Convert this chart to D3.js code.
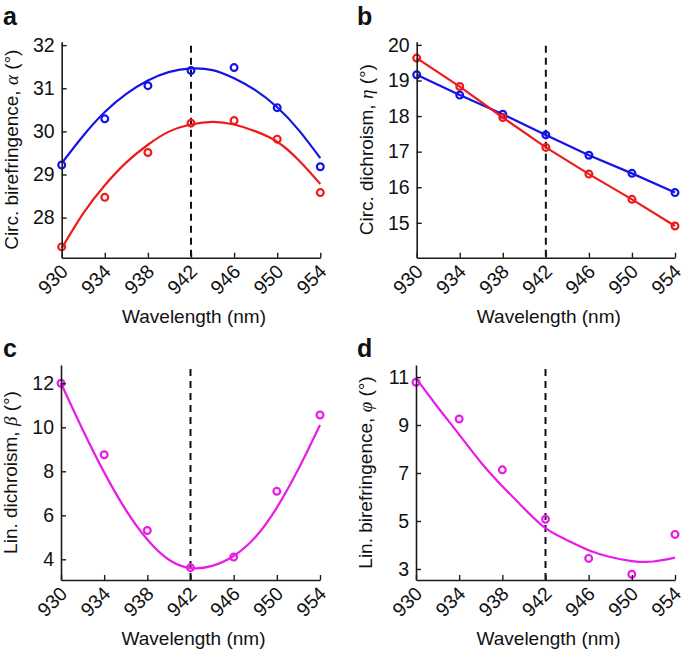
<!DOCTYPE html>
<html>
<head>
<meta charset="utf-8">
<script src="https://cdn.jsdelivr.net/npm/d3@7"></script>
<style>
  html, body { margin: 0; padding: 0; background: #fff; }
  svg { display: block; }
  text { font-family: "Liberation Sans", Arial, Helvetica, sans-serif; fill: #111; }
</style>
</head>
<body>
<svg id="chart" width="685" height="649"></svg>
<script>
// ---------------- DATA ----------------
const wavelengths = [930, 934, 938, 942, 946, 950, 954];
const xTickValues = [930, 934, 938, 942, 946, 950, 954];
const fitWavelengths = [930, 932, 934, 936, 938, 940, 942, 944, 946, 948, 950, 952, 954];
const markerWavelength = 942;

// a: circular birefringence
const circBirefBlue = [29.22, 30.29, 31.06, 31.41, 31.48, 30.55, 29.18];
const circBirefRed  = [27.32, 28.47, 29.51, 30.19, 30.25, 29.82, 28.58];
const circBirefBlueFit = [29.26, 29.9, 30.45, 30.87, 31.18, 31.38, 31.46, 31.42, 31.23, 30.95, 30.56, 30.03, 29.38];
const circBirefRedFit  = [27.29, 28.1, 28.75, 29.28, 29.69, 30.0, 30.16, 30.22, 30.16, 30.0, 29.76, 29.33, 28.78];
const yTicksA = [28, 29, 30, 31, 32];

// b: circular dichroism
const circDichBlue = [19.16, 18.59, 18.05, 17.47, 16.9, 16.39, 15.85];
const circDichRed  = [19.63, 18.83, 17.96, 17.12, 16.37, 15.66, 14.91];
const yTicksB = [15, 16, 17, 18, 19, 20];

// c: linear dichroism
const linDich    = [12.0, 8.75, 5.31, 3.62, 4.1, 7.09, 10.56];
const linDichFit = [12.0, 9.9, 7.95, 6.25, 4.9, 3.98, 3.6, 3.7, 4.15, 5.0, 6.35, 8.1, 10.1];
const yTicksC = [4, 6, 8, 10, 12];

// d: linear birefringence
const linBiref    = [10.78, 9.25, 7.13, 5.07, 3.44, 2.78, 4.44];
const linBirefFit = [10.95, 9.75, 8.6, 7.45, 6.45, 5.53, 4.7, 4.2, 3.78, 3.5, 3.33, 3.31, 3.47];
const yTicksD = [3, 5, 7, 9, 11];

// ---------------- STYLE / LAYOUT ----------------
const BLUE = "#1414e8", RED = "#ee1b1b", MAGENTA = "#ea1ae8", AXIS = "#1a1a1a";
const svg = d3.select("#chart");

const panels = [
  { letter: "a", x0: 61.7, x1: 320.3, y0: 41.7, y1: 257.7, domain: [27.07, 32.08], yTicks: yTicksA,
    label: ["Circ. birefringence, ", "α", " (°)"],
    series: [
      { pts: circBirefBlue, fit: circBirefBlueFit, color: BLUE },
      { pts: circBirefRed, fit: circBirefRedFit, color: RED }
    ] },
  { letter: "b", x0: 416.7, x1: 675, y0: 41.7, y1: 257.7, domain: [14.02, 20.09], yTicks: yTicksB,
    label: ["Circ. dichroism, ", "η", " (°)"],
    series: [
      { pts: circDichBlue, connect: true, color: BLUE },
      { pts: circDichRed, connect: true, color: RED }
    ] },
  { letter: "c", x0: 61, x1: 320, y0: 365, y1: 580, domain: [3.06, 12.83], yTicks: yTicksC,
    label: ["Lin. dichroism, ", "β", " (°)"],
    series: [ { pts: linDich, fit: linDichFit, color: MAGENTA } ] },
  { letter: "d", x0: 416, x1: 675, y0: 365, y1: 580, domain: [2.54, 11.5], yTicks: yTicksD,
    label: ["Lin. birefringence, ", "φ", " (°)"],
    series: [ { pts: linBiref, fit: linBirefFit, color: MAGENTA } ] }
];

panels.forEach(p => {
  const x = d3.scaleLinear().domain([930, 954]).range([p.x0, p.x1]);
  const y = d3.scaleLinear().domain(p.domain).range([p.y1, p.y0]);
  const g = svg.append("g");

  // dashed reference line
  g.append("line")
    .attr("x1", x(markerWavelength)).attr("x2", x(markerWavelength))
    .attr("y1", p.y0 + 4).attr("y2", p.y1)
    .attr("stroke", "#111").attr("stroke-width", 2).attr("stroke-dasharray", "7,5");

  // series
  p.series.forEach(s => {
    if (s.fit) {
      const line = d3.line().x((d, i) => x(fitWavelengths[i])).y(d => y(d)).curve(d3.curveNatural);
      g.append("path").datum(s.fit).attr("d", line)
        .attr("fill", "none").attr("stroke", s.color).attr("stroke-width", 2.2);
    }
    if (s.connect) {
      const line = d3.line().x((d, i) => x(wavelengths[i])).y(d => y(d));
      g.append("path").datum(s.pts).attr("d", line)
        .attr("fill", "none").attr("stroke", s.color).attr("stroke-width", 2.2);
    }
    g.selectAll(null).data(s.pts).enter().append("circle")
      .attr("cx", (d, i) => x(wavelengths[i])).attr("cy", d => y(d))
      .attr("r", 3.4).attr("fill", "none").attr("stroke", s.color).attr("stroke-width", 2.2);
  });

  // axes
  const xAxis = d3.axisBottom(x).tickValues(xTickValues).tickFormat(d3.format("d"))
    .tickSize(-5).tickSizeOuter(0);
  const gx = g.append("g").attr("transform", `translate(0,${p.y1})`).call(xAxis);
  gx.select(".domain").attr("stroke", AXIS).attr("stroke-width", 1.6);
  gx.selectAll(".tick line").attr("stroke", AXIS).attr("stroke-width", 1.4);
  gx.selectAll(".tick text")
    .attr("x", 0).attr("y", 0).attr("dy", 0)
    .attr("text-anchor", "end")
    .attr("transform", "translate(7,15) rotate(-45)")
    .style("font-size", "19.5px").style("font-family", "'Liberation Sans', Arial, sans-serif").attr("fill", "#111");

  const yAxis = d3.axisLeft(y).tickValues(p.yTicks).tickFormat(d3.format("d"))
    .tickSize(-5).tickSizeOuter(0).tickPadding(7);
  const gy = g.append("g").attr("transform", `translate(${p.x0},0)`).call(yAxis);
  gy.select(".domain").attr("stroke", AXIS).attr("stroke-width", 1.6);
  gy.selectAll(".tick line").attr("stroke", AXIS).attr("stroke-width", 1.4);
  gy.selectAll(".tick text")
    .style("font-size", "19.5px").style("font-family", "'Liberation Sans', Arial, sans-serif").attr("fill", "#111");

  // x title
  g.append("text")
    .attr("x", (p.x0 + p.x1) / 2 + 3).attr("y", p.y1 + 65)
    .attr("text-anchor", "middle").style("font-size", "19px")
    .text("Wavelength (nm)");

  // y title
  const yt = g.append("text")
    .attr("transform", `translate(${p.x0 - 44},${(p.y0 + p.y1) / 2}) rotate(-90)`)
    .attr("text-anchor", "middle").style("font-size", "19px");
  yt.append("tspan").text(p.label[0]);
  yt.append("tspan").style("font-family", "'Liberation Serif', 'DejaVu Serif', serif")
    .style("font-style", "italic").text(p.label[1]);
  yt.append("tspan").text(p.label[2]);

  // panel letter
  g.append("text")
    .attr("x", p.x0 < 200 ? 3 : 357).attr("y", p.y0 < 200 ? 25 : 357)
    .style("font-size", "25px").style("font-weight", "bold")
    .text(p.letter);
});
</script>
</body>
</html>
